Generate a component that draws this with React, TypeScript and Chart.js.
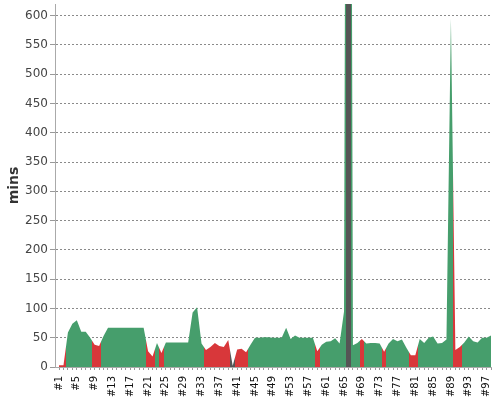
import { useEffect, useRef } from "react";
import { Chart, registerables } from "chart.js";

Chart.register(...registerables);

// Build durations (minutes), one per build #1..#98
const durations = [
  3, 3, 59, 74, 80, 60, 60, 50, 38, 36,
  53, 67, 67, 67, 67, 67, 67, 67, 67, 67,
  27, 18, 41, 24, 42, 42, 42, 42, 42, 42,
  93, 102, 40, 29, 34, 41, 36, 34, 46, 2,
  30, 31, 25, 38, 50, 50, 51, 51, 50, 50,
  50, 67, 48, 54, 50, 50, 50, 50, 27, 38,
  43, 44, 49, 40, 95, 2800, 37, 41, 48, 40,
  41, 41, 40, 26, 40, 48, 44, 47, 33, 20,
  20, 48, 41, 50, 52, 40, 41, 47, 595, 29,
  34, 42, 52, 44, 42, 50, 50, 54,
];

// Build result: S = success, F = failed, A = aborted
const statuses = [
  "F", "F", "S", "S", "S", "S", "S", "S", "F", "F",
  "S", "S", "S", "S", "S", "S", "S", "S", "S", "S",
  "F", "F", "S", "F", "S", "S", "S", "S", "S", "S",
  "S", "S", "S", "F", "F", "F", "F", "F", "F", "A",
  "F", "F", "F", "S", "S", "S", "S", "S", "S", "S",
  "S", "S", "S", "S", "S", "S", "S", "S", "F", "S",
  "S", "S", "S", "S", "S", "A", "S", "S", "F", "S",
  "S", "S", "S", "F", "S", "S", "S", "S", "S", "F",
  "F", "S", "S", "S", "S", "S", "S", "S", "S", "F",
  "F", "S", "S", "S", "S", "S", "S", "S",
];

const builds = durations.map((_, i) => "#" + (i + 1));

const statusColors: Record<string, string> = {
  S: "#469e6c",
  F: "#d8373a",
  A: "#555555",
};

// each build owns the band between the midpoints to its neighbours
function statusFill(chart: Chart) {
  const { chartArea, scales } = chart;
  if (!chartArea) return "transparent";
  const x = scales.x;
  const left = chartArea.left;
  const width = chartArea.right - chartArea.left;
  const frac = (v: number) =>
    Math.min(1, Math.max(0, (x.getPixelForValue(v) - left) / width));
  const g = chart.ctx.createLinearGradient(left, 0, chartArea.right, 0);
  statuses.forEach((s, i) => {
    const c = statusColors[s];
    g.addColorStop(frac(i + 0.5), c);
    g.addColorStop(frac(i + 1.5), c);
  });
  return g;
}

export default function App() {
  const canvasRef = useRef<HTMLCanvasElement>(null);

  useEffect(() => {
    const canvas = canvasRef.current;
    if (!canvas) return;

    Chart.defaults.font.family = "'DejaVu Sans', sans-serif";

    const chart = new Chart(canvas, {
      type: "line",
      data: {
        datasets: [
          {
            label: "Build duration",
            data: durations.map((v, i) => ({ x: i + 1, y: v })),
            fill: "origin",
            borderColor: "transparent",
            borderWidth: 0,
            pointRadius: 0,
            tension: 0,
            backgroundColor: (ctx: any) => statusFill(ctx.chart),
          },
        ],
      },
      options: {
        animation: false,
        responsive: true,
        maintainAspectRatio: false,
        layout: { padding: { top: 4, right: 9, left: 0, bottom: 0 } },
        plugins: {
          legend: { display: false },
          tooltip: { enabled: false },
        },
        scales: {
          x: {
            type: "linear",
            min: 0.1,
            max: 98,
            afterBuildTicks: (axis: any) => {
              axis.ticks = builds.map((_, i) => ({ value: i + 1 }));
            },
            afterFit: (axis: any) => {
              axis.height = 33;
              axis.paddingLeft = 0;
              axis.paddingRight = 0;
            },
            grid: { drawOnChartArea: false, tickLength: 3, color: "#999" },
            border: { color: "#aaa" },
            ticks: {
              autoSkip: false,
              maxRotation: 90,
              minRotation: 90,
              padding: 6,
              color: "#111",
              font: { size: 10 },
              callback: (v: any) =>
                (Number(v) - 1) % 4 === 0 ? builds[Number(v) - 1] : "",
            },
          },
          y: {
            min: 0,
            max: 620,
            afterFit: (axis: any) => {
              axis.width = 55;
              axis.paddingTop = 0;
              axis.paddingBottom = 0;
            },
            ticks: {
              stepSize: 50,
              includeBounds: false,
              padding: 2,
              color: "#444",
              font: { size: 12 },
            },
            grid: {
              color: (c: any) => (c.tick.value === 0 ? "transparent" : "#8a8a8a"),
              tickColor: "#999",
              tickLength: 5,
            },
            border: { color: "#aaa", dash: [2, 2] },
            title: {
              display: true,
              text: "mins",
              color: "#333",
              font: { size: 14, weight: "bold" },
              padding: { top: 6, bottom: 0 },
            },
          },
        },
      },
    });

    return () => chart.destroy();
  }, []);

  return (
    <div style={{ position: "absolute", left: 0, top: 0, width: 500, height: 400 }}>
      <canvas ref={canvasRef} />
    </div>
  );
}
